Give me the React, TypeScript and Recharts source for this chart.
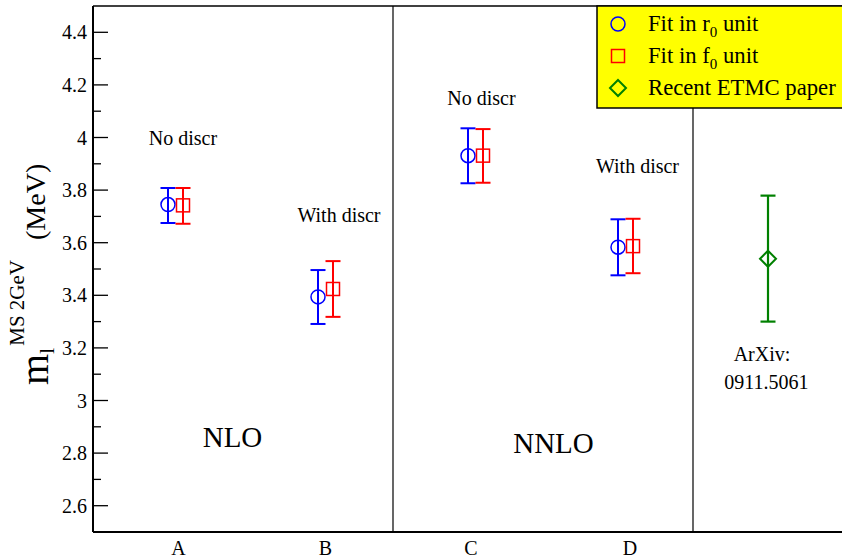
import React from "react";
import {
  ScatterChart,
  Scatter,
  XAxis,
  YAxis,
  ErrorBar,
  ReferenceLine,
} from "recharts";

// x positions: 0..5, separators at 2 (NLO | NNLO) and 4 (NNLO | ETMC)
const CATEGORY_LABELS = ["A", "B", "C", "D"];
const CATEGORY_TICKS = [0.57, 1.55, 2.52, 3.58];

const R0_X = [0.5, 1.5, 2.5, 3.5];
const R0_Y = [3.745, 3.394, 3.931, 3.583];
const R0_LO = [3.675, 3.291, 3.826, 3.476];
const R0_HI = [3.808, 3.496, 4.035, 3.689];

const F0_X = [0.6, 1.6, 2.6, 3.6];
const F0_Y = [3.742, 3.424, 3.931, 3.587];
const F0_LO = [3.672, 3.318, 3.828, 3.484];
const F0_HI = [3.808, 3.53, 4.032, 3.691];

const ETMC_X = [4.5];
const ETMC_Y = [3.539];
const ETMC_LO = [3.3];
const ETMC_HI = [3.779];

const MAJOR_TICKS = [2.6, 2.8, 3, 3.2, 3.4, 3.6, 3.8, 4, 4.2, 4.4];
const MINOR_TICKS = [2.7, 2.9, 3.1, 3.3, 3.5, 3.7, 3.9, 4.1, 4.3];

const NOTE_TEXT = ["No discr", "With discr", "No discr", "With discr", "NLO", "NNLO", "ArXiv:", "0911.5061"];
const NOTE_X = [0.6, 1.64, 2.59, 3.63, 0.93, 3.07, 4.46, 4.49];
const NOTE_Y = [4.0, 3.705, 4.15, 3.89, 2.86, 2.84, 3.177, 3.07];
const NOTE_SIZE = [20, 20, 20, 20, 29, 29, 20, 20];

const FONT = "Liberation Serif, DejaVu Serif, serif";

const build = (xs: number[], ys: number[], lo: number[], hi: number[]) =>
  xs.map((x, i) => ({ x, y: ys[i], err: [ys[i] - lo[i], hi[i] - ys[i]] }));

const r0Data = build(R0_X, R0_Y, R0_LO, R0_HI);
const f0Data = build(F0_X, F0_Y, F0_LO, F0_HI);
const etmcData = build(ETMC_X, ETMC_Y, ETMC_LO, ETMC_HI);
const notes = NOTE_TEXT.map((t, i) => ({ x: NOTE_X[i], y: NOTE_Y[i], text: t, size: NOTE_SIZE[i] }));
const yTicks = [...MAJOR_TICKS, ...MINOR_TICKS].sort((a, b) => a - b);

const isMajor = (v: number) => MAJOR_TICKS.some((m) => Math.abs(m - v) < 1e-6);

function LeftTick({ x, y, payload }: any) {
  const v = payload.value;
  const ax = x + 6;
  const major = isMajor(v);
  return (
    <g>
      <line x1={ax} x2={ax + (major ? 15 : 8)} y1={y} y2={y} stroke="#000" strokeWidth={1.3} />
      {major && (
        <text x={x} y={y} dy="0.35em" textAnchor="end" style={{ fontFamily: FONT }} fontSize={20} fill="#000">
          {String(v)}
        </text>
      )}
    </g>
  );
}

function BottomTick({ x, y, payload }: any) {
  const i = CATEGORY_TICKS.indexOf(payload.value);
  return (
    <text x={x} y={y} dy="0.71em" textAnchor="middle" style={{ fontFamily: FONT }} fontSize={20} fill="#000">
      {CATEGORY_LABELS[i] ?? ""}
    </text>
  );
}

function RightTick({ x, y, payload }: any) {
  const major = isMajor(payload.value);
  return <line x1={x} x2={x - (major ? 15 : 7)} y1={y} y2={y} stroke="#000" strokeWidth={1.3} />;
}

function Circle({ cx, cy }: any) {
  return <circle cx={cx} cy={cy} r={7} fill="none" stroke="#0000ff" strokeWidth={1.5} />;
}
function Square({ cx, cy }: any) {
  return <rect x={cx - 6.5} y={cy - 6.5} width={13} height={13} fill="none" stroke="#ff0000" strokeWidth={1.5} />;
}
function Diamond({ cx, cy }: any) {
  return (
    <polygon
      points={`${cx},${cy - 8} ${cx + 8},${cy} ${cx},${cy + 8} ${cx - 8},${cy}`}
      fill="none"
      stroke="#008000"
      strokeWidth={2}
    />
  );
}
function Note({ cx, cy, payload }: any) {
  return (
    <text
      x={cx}
      y={cy}
      textAnchor="middle"
      dominantBaseline="central"
      style={{ fontFamily: FONT }}
      fontSize={payload.size}
      fill="#000"
    >
      {payload.text}
    </text>
  );
}

export default function App() {
  return (
    <div style={{ position: "relative", width: 842, height: 559, overflow: "hidden", background: "#fff" }}>
      <style>{`body{margin:0}`}</style>
      <ScatterChart width={844} height={559} margin={{ top: 6, right: 1, bottom: 0, left: 0 }}>
        <XAxis
          type="number"
          dataKey="x"
          domain={[0, 5]}
          ticks={CATEGORY_TICKS}
          interval={0}
          tickLine={false}
          tickSize={0}
          tickMargin={9}
          height={27}
          axisLine={{ stroke: "#000", strokeWidth: 2 }}
          tick={<BottomTick />}
          allowDataOverflow
        />
        <YAxis
          type="number"
          dataKey="y"
          domain={[2.5, 4.5]}
          ticks={yTicks}
          interval={0}
          width={93}
          tickLine={false}
          tickSize={0}
          tickMargin={6}
          axisLine={{ stroke: "#000", strokeWidth: 2 }}
          tick={<LeftTick />}
          allowDataOverflow
        />
        <YAxis
          yAxisId="right"
          orientation="right"
          type="number"
          domain={[2.5, 4.5]}
          ticks={yTicks}
          interval={0}
          width={0}
          tickLine={false}
          tickSize={0}
          tickMargin={0}
          axisLine={false}
          tick={<RightTick />}
          allowDataOverflow
        />
        <ReferenceLine y={4.5} stroke="#000" strokeWidth={1.5} />
        <ReferenceLine x={5} stroke="#000" strokeWidth={1.5} />
        <ReferenceLine x={2} stroke="#000" strokeWidth={1.2} />
        <ReferenceLine x={4} stroke="#000" strokeWidth={1.2} />
        <Scatter data={r0Data} shape={<Circle />} isAnimationActive={false}>
          <ErrorBar dataKey="err" direction="y" width={7.5} stroke="#0000ff" strokeWidth={2} />
        </Scatter>
        <Scatter data={f0Data} shape={<Square />} isAnimationActive={false}>
          <ErrorBar dataKey="err" direction="y" width={7.5} stroke="#ff0000" strokeWidth={2} />
        </Scatter>
        <Scatter data={etmcData} shape={<Diamond />} isAnimationActive={false}>
          <ErrorBar dataKey="err" direction="y" width={7.5} stroke="#008000" strokeWidth={2.2} />
        </Scatter>
        <Scatter data={notes} shape={<Note />} isAnimationActive={false} />
      </ScatterChart>

      {/* legend + y axis title */}
      <svg width={842} height={559} style={{ position: "absolute", left: 0, top: 0, pointerEvents: "none" }}>
        <g style={{ fontFamily: FONT }} fill="#000">
          <text transform="translate(48,385) rotate(-90)">
            <tspan fontSize={40}>m</tspan>
            <tspan fontSize={22} dy={6}>l</tspan>
            <tspan fontSize={21} dy={-30} dx={2}>MS 2GeV</tspan>
            <tspan fontSize={28} dy={21} dx={20}>(MeV)</tspan>
          </text>
        </g>
        <rect x={597} y={6} width={247} height={102} fill="#ffff00" stroke="#000" strokeWidth={1.5} />
        <circle cx={618} cy={24} r={7} fill="none" stroke="#0000ff" strokeWidth={1.5} />
        <rect x={611.5} y={49.5} width={13} height={13} fill="none" stroke="#ff0000" strokeWidth={1.5} />
        <polygon points="618,80 626,88 618,96 610,88" fill="none" stroke="#008000" strokeWidth={2} />
        <g style={{ fontFamily: FONT }} fontSize={22.7} fill="#000">
          <text x={648} y={31}>
            Fit in r<tspan fontSize={15} dy={6}>0</tspan>
            <tspan dy={-6}> unit</tspan>
          </text>
          <text x={648} y={63}>
            Fit in f<tspan fontSize={15} dy={6}>0</tspan>
            <tspan dy={-6}> unit</tspan>
          </text>
          <text x={648} y={95}>Recent ETMC paper</text>
        </g>
      </svg>
    </div>
  );
}
